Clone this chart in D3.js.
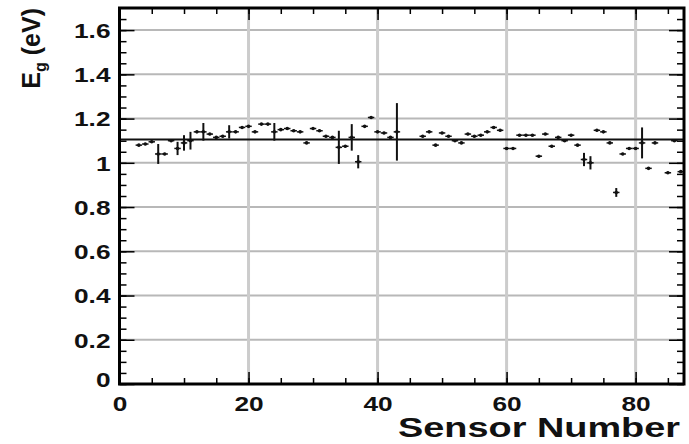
<!DOCTYPE html>
<html lang="en">
<head>
<meta charset="UTF-8">
<title>Eg vs sensor</title>
<style>
    body { margin: 0; background: #fff; }
    text { font-family: "Liberation Sans", Arial, sans-serif; font-weight: bold; fill: #111; }
</style>
</head>
<body>
<svg id="chart"></svg>
<script src="https://d3js.org/d3.v7.min.js"></script>
<script>
    // data
    var sensors = [3, 4, 5, 6, 7, 8, 9, 10, 11, 12, 13, 14, 15, 16, 17, 18, 19, 20,
        21, 22, 23, 24, 25, 26, 27, 28, 29, 30, 31, 32, 33, 34, 35, 36, 37, 38, 39, 40,
        41, 42, 43, 47, 48, 49, 50, 51, 52, 53, 54, 55, 56, 57, 58, 59, 60,
        61, 62, 63, 64, 65, 66, 67, 68, 69, 70, 71, 72, 73, 74, 75, 76, 77, 78, 79, 80,
        81, 82, 83, 85, 86, 87];
    var eg = [1.08, 1.085, 1.095, 1.04, 1.04, 1.10, 1.065, 1.09, 1.10, 1.14, 1.14, 1.13, 1.115, 1.12, 1.14, 1.14, 1.16, 1.165,
        1.14, 1.175, 1.175, 1.14, 1.15, 1.155, 1.145, 1.14, 1.09, 1.155, 1.145, 1.12, 1.115, 1.07, 1.075, 1.115, 1.005, 1.165, 1.205, 1.14,
        1.135, 1.115, 1.14, 1.12, 1.14, 1.08, 1.135, 1.12, 1.10, 1.09, 1.13, 1.12, 1.125, 1.14, 1.16, 1.147, 1.065,
        1.065, 1.125, 1.125, 1.125, 1.03, 1.13, 1.075, 1.115, 1.10, 1.125, 1.08, 1.015, 1.0, 1.147, 1.14, 1.09, 0.866, 1.04, 1.065, 1.065,
        1.09, 0.975, 1.09, 0.955, 1.10, 0.96];
    var egErr = [0.005, 0.005, 0.005, 0.045, 0.005, 0.005, 0.03, 0.035, 0.04, 0.005, 0.04, 0.005, 0.005, 0.005, 0.03, 0.005, 0.005, 0.005,
        0.005, 0.005, 0.005, 0.04, 0.005, 0.005, 0.005, 0.005, 0.005, 0.005, 0.005, 0.005, 0.005, 0.075, 0.005, 0.06, 0.03, 0.005, 0.005, 0.005,
        0.005, 0.005, 0.13, 0.005, 0.005, 0.005, 0.005, 0.005, 0.005, 0.005, 0.005, 0.005, 0.005, 0.005, 0.005, 0.005, 0.005,
        0.005, 0.005, 0.005, 0.005, 0.005, 0.005, 0.005, 0.005, 0.005, 0.005, 0.005, 0.03, 0.03, 0.005, 0.005, 0.005, 0.02, 0.005, 0.005, 0.005,
        0.07, 0.005, 0.005, 0.005, 0.005, 0.005];
    var fitValue = 1.106;

    var xTicks = [0, 20, 40, 60, 80];
    var xTickLabels = ["0", "20", "40", "60", "80"];
    var yTicks = [0, 0.2, 0.4, 0.6, 0.8, 1.0, 1.2, 1.4, 1.6];
    var yTickLabels = ["0", "0.2", "0.4", "0.6", "0.8", "1", "1.2", "1.4", "1.6"];

    var width = 689,
        height = 444;
    var margin = { top: 8, right: 5, bottom: 60, left: 119.5 };

    var svg = d3.select("#chart")
        .attr("width", width)
        .attr("height", height);

    var x = d3.scaleLinear().domain([0, 87.5]).range([margin.left, width - margin.right]);
    var y = d3.scaleLinear().domain([0, 1.7]).range([height - margin.bottom, margin.top]);

    var xMinor = d3.range(0, 87.5, 5);
    var yMinor = d3.range(0, 1.7, 0.05);

    // grid
    svg.append("g").selectAll("line")
        .data(yTicks.slice(1))
        .enter().append("line")
        .attr("x1", x.range()[0]).attr("x2", x.range()[1])
        .attr("y1", d => y(d)).attr("y2", d => y(d))
        .attr("stroke", "#b8b8b8").attr("stroke-width", 2);
    svg.append("g").selectAll("line")
        .data(xTicks.slice(1))
        .enter().append("line")
        .attr("y1", y.range()[0]).attr("y2", y.range()[1])
        .attr("x1", d => x(d)).attr("x2", d => x(d))
        .attr("stroke", "#cccccc").attr("stroke-width", 3);

    // ticks (ROOT style, inside the frame)
    function ticks(axis, scale, vals, size, tr) {
        svg.append("g")
            .attr("transform", tr)
            .call(axis(scale).tickValues(vals).tickSize(-size).tickFormat(""))
            .call(g => g.select(".domain").remove())
            .call(g => g.selectAll("line").attr("stroke", "#000").attr("stroke-width", 1.5));
    }
    var bottomY = y.range()[0], topY = y.range()[1];
    ticks(d3.axisLeft, y, yMinor, 7, `translate(${x.range()[0]},0)`);
    ticks(d3.axisLeft, y, yTicks, 15, `translate(${x.range()[0]},0)`);
    ticks(d3.axisRight, y, yMinor, 7, `translate(${x.range()[1]},0)`);
    ticks(d3.axisRight, y, yTicks, 15, `translate(${x.range()[1]},0)`);
    ticks(d3.axisBottom, x, xMinor, 6, `translate(0,${bottomY})`);
    ticks(d3.axisBottom, x, xTicks, 12, `translate(0,${bottomY})`);
    ticks(d3.axisTop, x, xMinor, 6, `translate(0,${topY})`);
    ticks(d3.axisTop, x, xTicks, 12, `translate(0,${topY})`);

    // tick labels
    var yAxis = svg.append("g")
        .attr("transform", `translate(${x.range()[0] - 6},0)`)
        .call(d3.axisLeft(y).tickValues(yTicks).tickSize(0).tickFormat((d, i) => yTickLabels[i]));
    yAxis.select(".domain").remove();
    yAxis.selectAll("text").attr("font-size", 21).attr("fill", "#111")
        .attr("dy", (d, i) => i === 0 ? "0.1em" : "0.35em");

    var xAxis = svg.append("g")
        .attr("transform", `translate(0,${bottomY + 9})`)
        .call(d3.axisBottom(x).tickValues(xTicks).tickSize(0).tickFormat((d, i) => xTickLabels[i]));
    xAxis.select(".domain").remove();
    xAxis.selectAll("text").attr("font-size", 21).attr("fill", "#111");

    // fit line
    svg.append("line")
        .attr("x1", x.range()[0]).attr("x2", x.range()[1])
        .attr("y1", y(fitValue)).attr("y2", y(fitValue))
        .attr("stroke", "#111").attr("stroke-width", 2);

    // points with errors
    var pts = sensors.map((s, i) => ({ s: s, v: eg[i], e: egErr[i] }));
    var gp = svg.append("g");
    gp.selectAll(".ey").data(pts).enter().append("line")
        .attr("x1", d => x(d.s)).attr("x2", d => x(d.s))
        .attr("y1", d => y(d.v - d.e)).attr("y2", d => y(d.v + d.e))
        .attr("stroke", "#111").attr("stroke-width", 2);
    gp.selectAll(".ex").data(pts).enter().append("line")
        .attr("x1", d => x(d.s - 0.5)).attr("x2", d => Math.min(x(d.s + 0.5), x.range()[1]))
        .attr("y1", d => y(d.v)).attr("y2", d => y(d.v))
        .attr("stroke", "#111").attr("stroke-width", 1.5);
    gp.selectAll("circle").data(pts).enter().append("circle")
        .attr("cx", d => x(d.s)).attr("cy", d => y(d.v)).attr("r", 1.8)
        .attr("fill", "#111");

    // frame
    svg.append("rect")
        .attr("x", x.range()[0]).attr("y", topY)
        .attr("width", x.range()[1] - x.range()[0]).attr("height", bottomY - topY)
        .attr("fill", "none").attr("stroke", "#000").attr("stroke-width", 3);

    // the source picture is stretched sideways; widen the tick labels to match
    svg.selectAll("g text").each(function () {
        var w = this.getComputedTextLength();
        d3.select(this).attr("textLength", w * 1.25).attr("lengthAdjust", "spacingAndGlyphs");
    });

    // axis titles
    svg.append("text")
        .attr("x", 398).attr("y", 437)
        .attr("font-size", 27)
        .attr("textLength", 282).attr("lengthAdjust", "spacingAndGlyphs")
        .text("Sensor Number");

    var yt = svg.append("text")
        .attr("transform", "translate(40,8) rotate(-90)")
        .attr("text-anchor", "end")
        .attr("font-size", 25);
    yt.append("tspan").text("E");
    yt.append("tspan").attr("font-size", 16).attr("dy", 6).text("g");
    yt.append("tspan").attr("dy", -6).text(" (eV)");
</script>
</body>
</html>
